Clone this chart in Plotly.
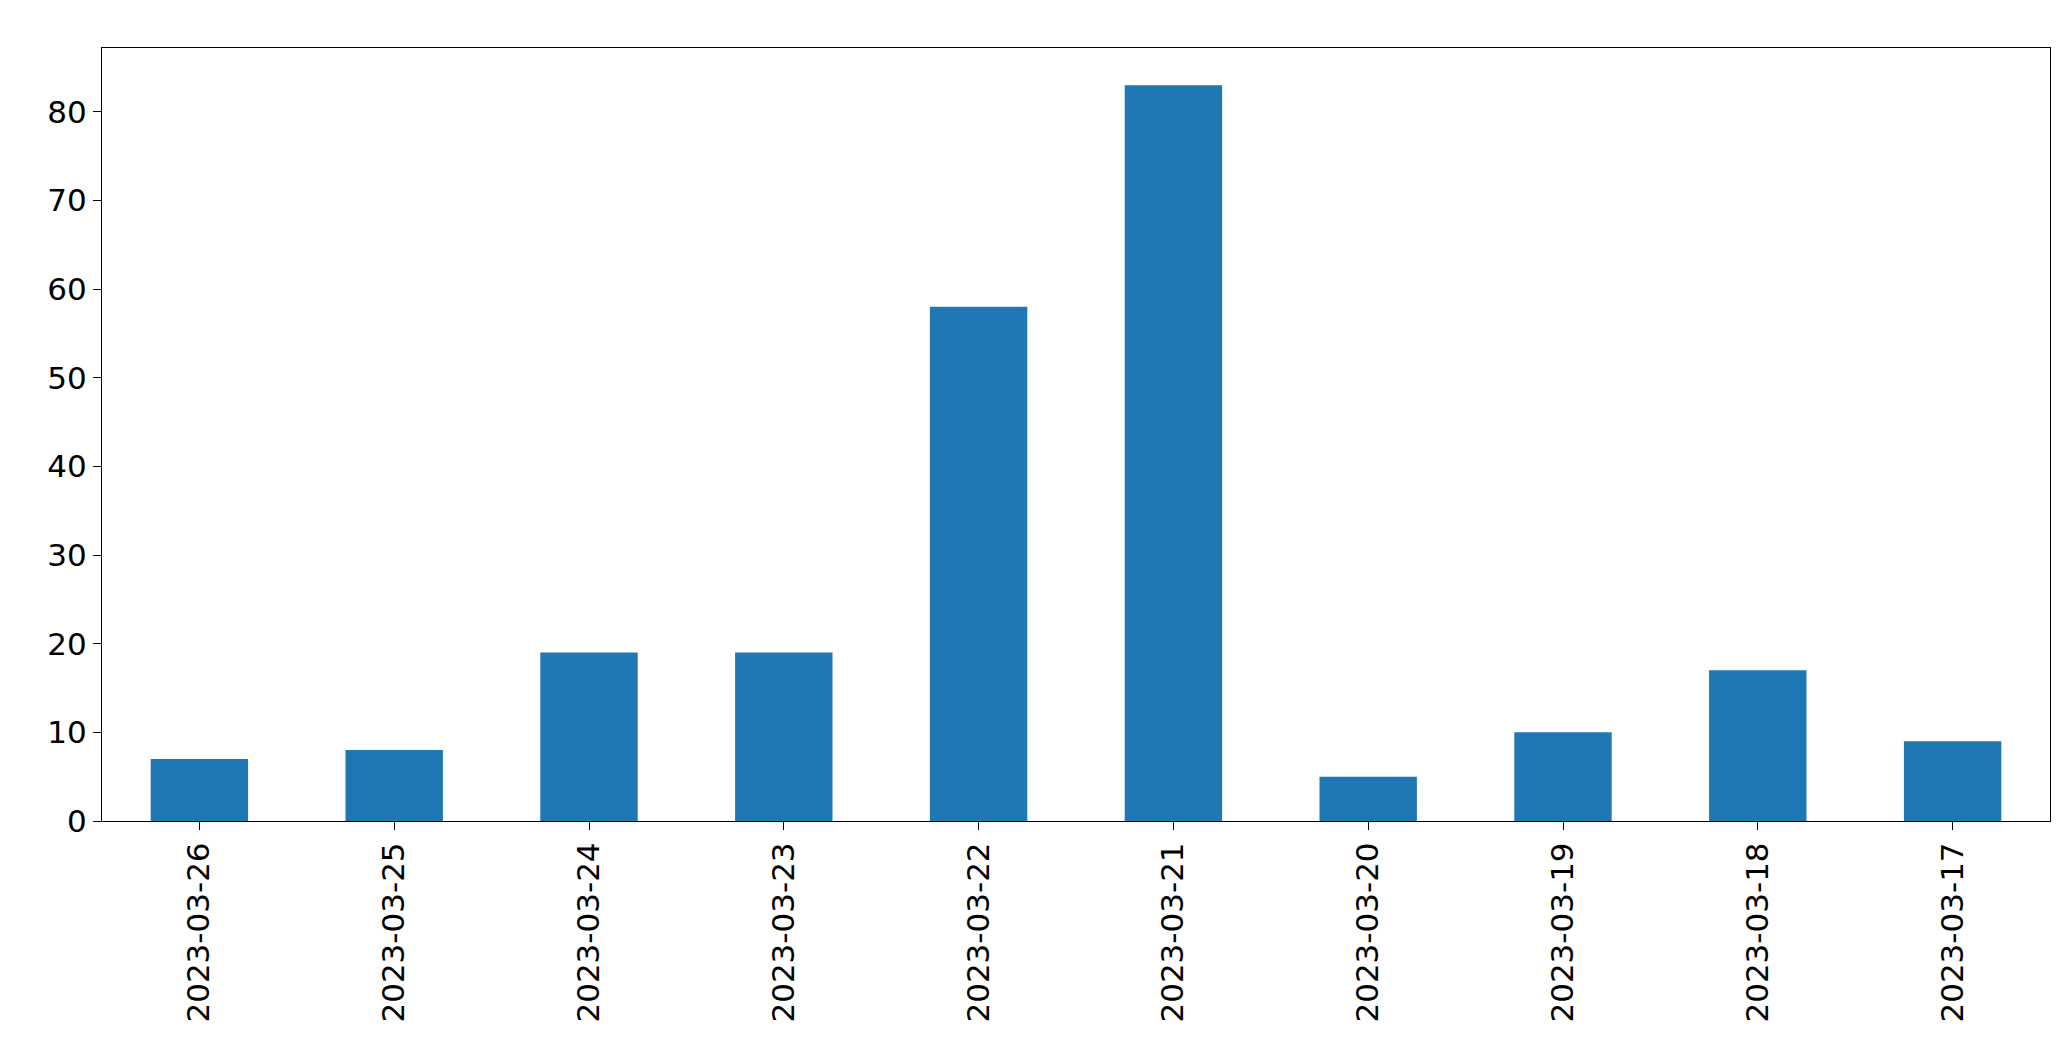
import plotly.graph_objects as go

# daily counts, newest first as in the source chart
dates = ["2023-03-26", "2023-03-25", "2023-03-24", "2023-03-23", "2023-03-22",
         "2023-03-21", "2023-03-20", "2023-03-19", "2023-03-18", "2023-03-17"]
counts = [7, 8, 19, 19, 58, 83, 5, 10, 17, 9]

fig = go.Figure(go.Bar(x=dates, y=counts, width=0.5, marker=dict(color="#1f77b4", line=dict(width=0))))

fig.update_layout(
    width=2071, height=1061,
    margin=dict(l=94, r=29, t=40, b=248),
    plot_bgcolor="white", paper_bgcolor="white",
    font=dict(family="DejaVu Sans", size=31, color="black"),
    showlegend=False,
    bargap=0.5,
)
fig.update_xaxes(type="category", range=[-0.5, 9.5], tickangle=-90,
                 showline=True, linecolor="black", mirror=True, ticks="outside",
                 ticklen=8, tickcolor="black", showgrid=False)
fig.update_yaxes(range=[0, 87.2], dtick=10, showline=True, linecolor="black",
                 mirror=True, ticks="outside", ticklen=8, tickcolor="black",
                 showgrid=False, zeroline=False)

fig.write_html("out.html")
